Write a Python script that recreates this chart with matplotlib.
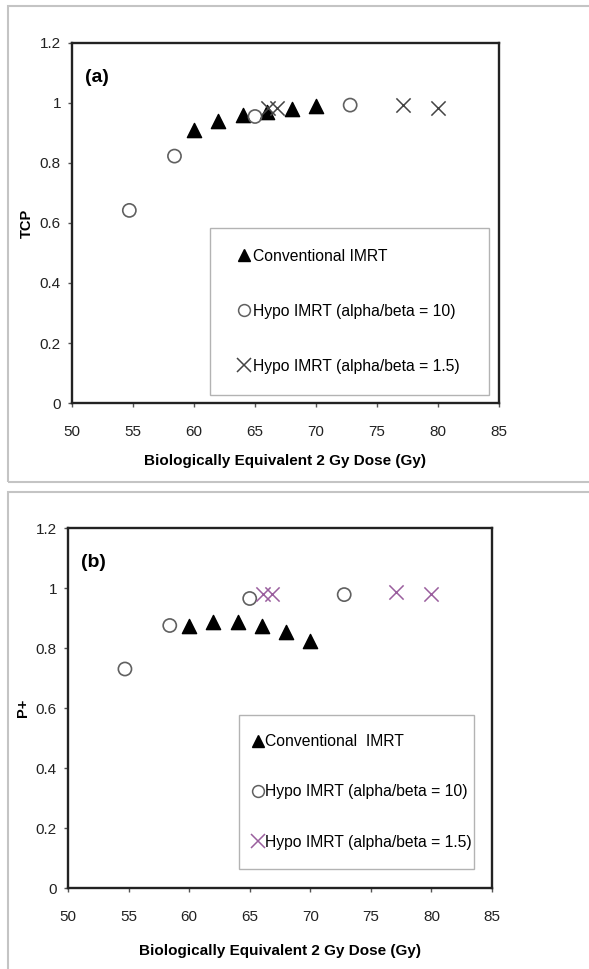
import matplotlib.pyplot as plt
from matplotlib.patches import Rectangle
from matplotlib.lines import Line2D

plt.rcParams['font.family'] = ['Liberation Sans', 'DejaVu Sans']

# panel (a): TCP
conv_dose = [60, 62, 64, 66, 68, 70]
conv_tcp = [0.91, 0.94, 0.96, 0.97, 0.98, 0.99]
hypo10_dose = [54.7, 58.4, 65.0, 72.8]
hypo10_tcp = [0.642, 0.823, 0.955, 0.993]
hypo15_dose = [66.1, 66.8, 77.1, 80.0]
hypo15_tcp = [0.985, 0.985, 0.993, 0.982]

# panel (b): P+
conv_pplus = [0.875, 0.888, 0.888, 0.875, 0.852, 0.823]
hypo10_pplus = [0.73, 0.875, 0.965, 0.978]
hypo15_pplus = [0.98, 0.98, 0.988, 0.98]

xticks = [50, 55, 60, 65, 70, 75, 80, 85]
yticks = [0, 0.2, 0.4, 0.6, 0.8, 1.0, 1.2]
ytick_labels = ["0", "0.2", "0.4", "0.6", "0.8", "1", "1.2"]
legend_labels = ["Conventional IMRT", "Hypo IMRT (alpha/beta = 10)",
                 "Hypo IMRT (alpha/beta = 1.5)"]
legend_labels_b = ["Conventional  IMRT", "Hypo IMRT (alpha/beta = 10)",
                   "Hypo IMRT (alpha/beta = 1.5)"]

W, H = 589, 969
fig = plt.figure(figsize=(W / 100, H / 100), dpi=100)

# gray frames around the two panels
fig.patches.append(Rectangle((8 / W, 1 - 482 / H), 1.0, (482 - 6) / H,
                             transform=fig.transFigure, fill=False,
                             edgecolor="#c4c4c4", lw=1.5))
fig.patches.append(Rectangle((8 / W, -0.01), 1.0, 0.01 + (H - 492) / H,
                             transform=fig.transFigure, fill=False,
                             edgecolor="#c4c4c4", lw=1.5))


def px_axes(left, top, right, bottom):
    return fig.add_axes([left / W, 1 - bottom / H, (right - left) / W, (bottom - top) / H])


def draw_panel(ax, y_conv, y_h10, y_h15, cross_color, ylabel, tag, labels,
               xlabelpad, leg_box, leg_kw):
    ax.scatter(conv_dose, y_conv, marker="^", s=105, color="black", zorder=3)
    ax.scatter(hypo10_dose, y_h10, marker="o", s=90, facecolors="none",
               edgecolors="#606060", linewidths=1.2, zorder=3)
    ax.scatter(hypo15_dose, y_h15, marker="x", s=105, color=cross_color,
               linewidths=1.1, zorder=3)
    ax.set_xlim(50, 85)
    ax.set_ylim(0, 1.2)
    ax.set_xticks(xticks)
    ax.set_yticks(yticks)
    ax.set_yticklabels(ytick_labels)
    ax.tick_params(direction="out", length=3, width=1, color="#555555",
                   labelsize=11, labelcolor="#222222")
    ax.tick_params(axis="x", pad=12.5)
    ax.tick_params(axis="y", pad=5)
    for s in ax.spines.values():
        s.set_linewidth(1.7)
        s.set_color("#222222")
    ax.set_ylabel(ylabel, fontsize=10.5, fontweight="bold", labelpad=4)
    ax.set_xlabel("Biologically Equivalent 2 Gy Dose (Gy)", fontsize=11,
                  fontweight="bold", labelpad=xlabelpad)
    ax.text(0.03, 0.905, tag, transform=ax.transAxes, fontsize=14,
            fontweight="bold", va="center")
    handles = [
        Line2D([], [], ls="none", marker="^", ms=9, color="black"),
        Line2D([], [], ls="none", marker="o", ms=8.5, mfc="none", mec="#606060", mew=1.1),
        Line2D([], [], ls="none", marker="x", ms=9.5, color=cross_color, mew=1.1),
    ]
    leg = ax.legend(handles, labels, loc="upper left", bbox_to_anchor=leg_box,
                    mode="expand", fontsize=11.3, frameon=True, fancybox=False,
                    borderaxespad=0, **leg_kw)
    leg.get_frame().set_edgecolor("#a0a0a0")
    leg.get_frame().set_linewidth(1.0)


ax1 = px_axes(72, 43, 499, 403)
draw_panel(ax1, conv_tcp, hypo10_tcp, hypo15_tcp, "#444444", "TCP", "(a)",
           legend_labels, 11, (0.323, 0, 0.653, 0.486),
           dict(handlelength=1.7, handletextpad=-0.3, labelspacing=2.55, borderpad=1.33))

ax2 = px_axes(68, 528, 492, 888)
draw_panel(ax2, conv_pplus, hypo10_pplus, hypo15_pplus, "#9a5f9e", "P+", "(b)",
           legend_labels_b, 14.5, (0.403, 0, 0.554, 0.481),
           dict(handlelength=0.0, handletextpad=0.42, labelspacing=2.25, borderpad=1.23))

fig.savefig("out.png", dpi=100)
